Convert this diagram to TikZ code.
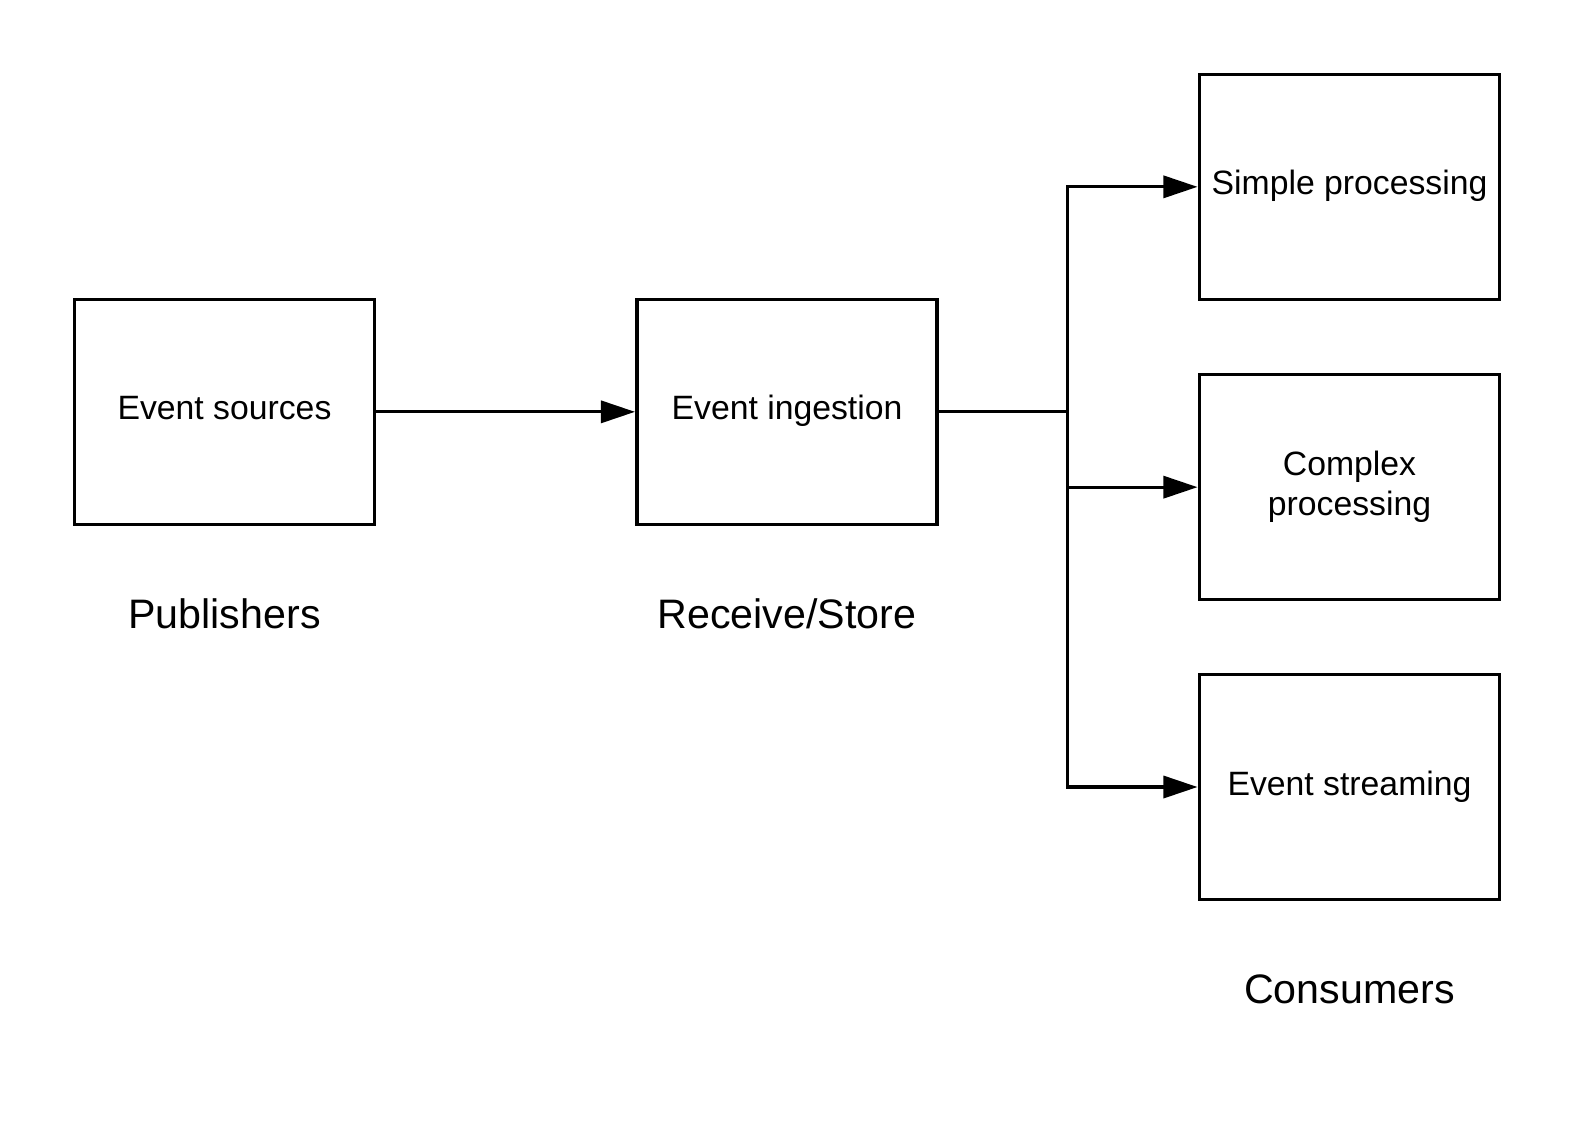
\documentclass[tikz,border=0pt]{standalone}
\usepackage{fontspec}
\setmainfont{Liberation Sans}
\usetikzlibrary{arrows.meta}
\begin{document}
\begin{tikzpicture}[x=1pt,y=-1pt,
  box/.style={draw=black,line width=3.6pt,minimum width=299pt,minimum height=224pt,inner sep=0pt,
    font=\fontsize{33.6}{40}\selectfont,text height=24pt,text depth=8pt,align=center},
  box2/.style={box,text height=64pt,text depth=8pt},
  lab/.style={font=\fontsize{41}{48}\selectfont,text height=29pt,text depth=0pt,inner sep=0pt},
  conn/.style={line width=3.2pt},
  arr/.style={conn,-{Triangle[length=34pt,width=22pt]}}]
\useasboundingbox (0,0) rectangle (1568,1120);
\node[box] (src) at (223.5,410) {Event sources};
\node[box] (ing) at (783.5,410) {Event ingestion};
\node[box] (simple) at (1343.5,186) {Simple processing};
\node[box2] (complex) at (1343.5,485) {Complex\\processing};
\node[box] (stream) at (1343.5,783.5) {Event streaming};
\node[lab] (pub) at (223.5,611) {Publishers};
\node[lab] (rs) at (783.5,611) {Receive/Store};
\node[lab] (cons) at (1343.5,985) {Consumers};
\coordinate (j) at (1063,410);
\draw[arr] (src.east) -- (ing.west);
\draw[conn] (ing.east) -- (j);
\draw[arr] (j) |- (simple.west);
\draw[arr] (j) |- (complex.west);
\draw[arr] (j) |- (stream.west);
\end{tikzpicture}
\end{document}
